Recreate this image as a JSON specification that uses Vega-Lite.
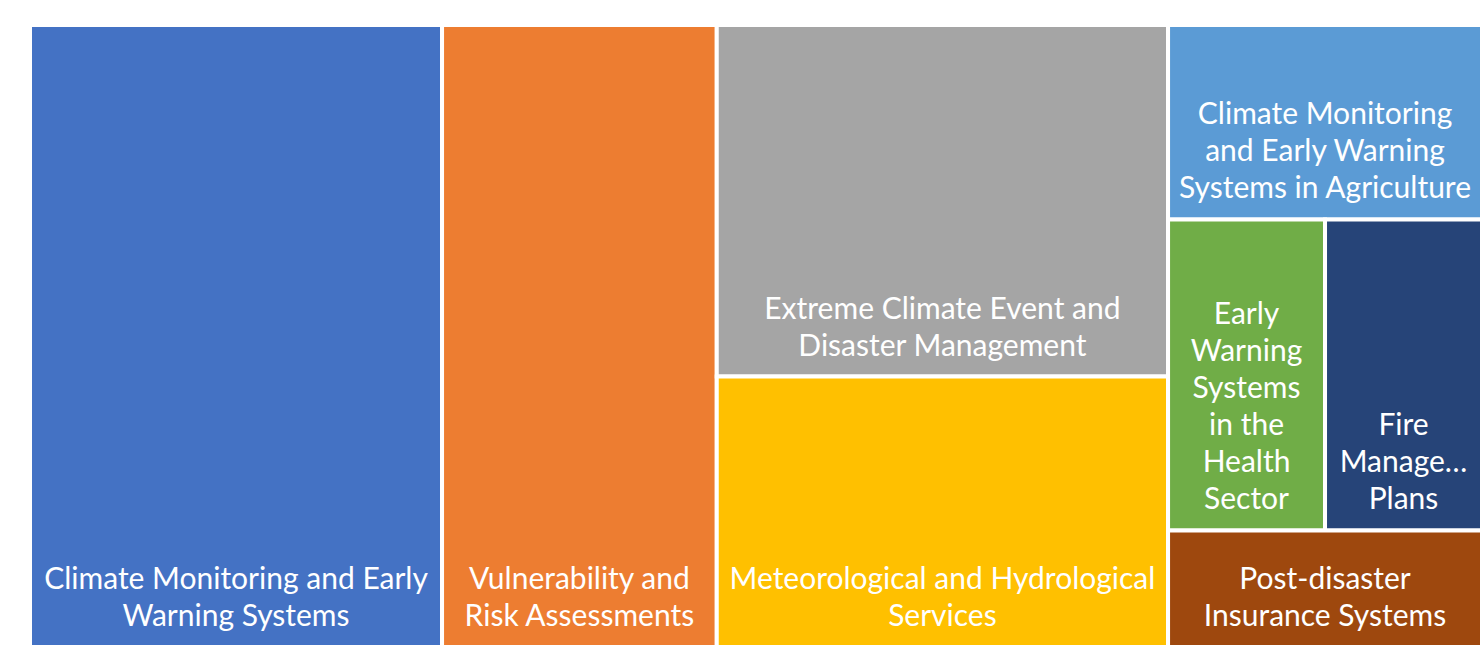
{
  "$schema": "https://vega.github.io/schema/vega-lite/v6.json",
  "width": 1452,
  "height": 622,
  "padding": {"left": 28, "top": 23, "right": 4, "bottom": 14},
  "background": "white",
  "config": {"view": {"stroke": null}},
  "data": {
    "values": [
      {"name": "Climate Monitoring and Early Warning Systems", "label": "Climate Monitoring and Early\nWarning Systems", "value": 21, "col": 1, "row": 1, "order": 1},
      {"name": "Vulnerability and Risk Assessments", "label": "Vulnerability and\nRisk Assessments", "value": 14, "col": 2, "row": 1, "order": 1},
      {"name": "Extreme Climate Event and Disaster Management", "label": "Extreme Climate Event and\nDisaster Management", "value": 13, "col": 3, "row": 1, "order": 1},
      {"name": "Meteorological and Hydrological Services", "label": "Meteorological and Hydrological\nServices", "value": 10, "col": 3, "row": 2, "order": 1},
      {"name": "Climate Monitoring and Early Warning Systems in Agriculture", "label": "Climate Monitoring\nand Early Warning\nSystems in Agriculture", "value": 5, "col": 4, "row": 1, "order": 1},
      {"name": "Early Warning Systems in the Health Sector", "label": "Early\nWarning\nSystems\nin the\nHealth\nSector", "value": 4, "col": 4, "row": 2, "order": 1},
      {"name": "Fire Management Plans", "label": "Fire\nManage…\nPlans", "value": 4, "col": 4, "row": 2, "order": 2},
      {"name": "Post-disaster Insurance Systems", "label": "Post-disaster\nInsurance Systems", "value": 3, "col": 4, "row": 3, "order": 1}
    ]
  },
  "transform": [
    {"joinaggregate": [{"op": "sum", "field": "value", "as": "colTotal"}], "groupby": ["col"]},
    {"joinaggregate": [{"op": "sum", "field": "value", "as": "rowTotal"}], "groupby": ["col", "row"]},
    {"window": [{"op": "sum", "field": "value", "as": "xEnd"}], "sort": [{"field": "col", "order": "ascending"}], "frame": [null, 0], "ignorePeers": false},
    {"window": [{"op": "sum", "field": "value", "as": "yCum"}], "groupby": ["col"], "sort": [{"field": "row", "order": "ascending"}], "frame": [null, 0], "ignorePeers": false},
    {"window": [{"op": "sum", "field": "value", "as": "inCum"}], "groupby": ["col", "row"], "sort": [{"field": "order", "order": "ascending"}], "frame": [null, 0]},
    {"calculate": "datum.xEnd - datum.colTotal", "as": "xStart"},
    {"calculate": "datum.xStart + datum.colTotal * (datum.inCum - datum.value) / datum.rowTotal", "as": "x0"},
    {"calculate": "datum.xStart + datum.colTotal * datum.inCum / datum.rowTotal", "as": "x1"},
    {"calculate": "(datum.yCum - datum.rowTotal) / datum.colTotal", "as": "y0"},
    {"calculate": "datum.yCum / datum.colTotal", "as": "y1"},
    {"calculate": "(datum.x0 + datum.x1) / 2", "as": "xc"},
    {"calculate": "length(split(datum.label, '\\n'))", "as": "nLines"}
  ],
  "encoding": {
    "x": {"field": "x0", "type": "quantitative", "scale": {"domain": [0, 74], "nice": false, "zero": false}, "axis": null},
    "y": {"field": "y0", "type": "quantitative", "scale": {"domain": [0, 1], "nice": false, "reverse": true}, "axis": null}
  },
  "layer": [
    {
      "mark": {"type": "rect", "stroke": "white", "strokeWidth": 4},
      "encoding": {
        "x2": {"field": "x1"},
        "y2": {"field": "y1"},
        "color": {
          "field": "name",
          "type": "nominal",
          "legend": null,
          "scale": {
            "domain": [
              "Climate Monitoring and Early Warning Systems",
              "Vulnerability and Risk Assessments",
              "Extreme Climate Event and Disaster Management",
              "Meteorological and Hydrological Services",
              "Climate Monitoring and Early Warning Systems in Agriculture",
              "Early Warning Systems in the Health Sector",
              "Fire Management Plans",
              "Post-disaster Insurance Systems"
            ],
            "range": ["#4472C4", "#ED7D31", "#A5A5A5", "#FFC000", "#5B9BD5", "#70AD47", "#264478", "#9E480E"]
          }
        }
      }
    },
    {
      "transform": [{"filter": "datum.nLines == 2"}],
      "mark": {"type": "text", "align": "center", "baseline": "alphabetic", "dy": -58, "lineBreak": "\n", "lineHeight": 37, "font": "Lato", "fontSize": 30, "color": "white"},
      "encoding": {
        "x": {"field": "xc", "type": "quantitative"},
        "y": {"field": "y1", "type": "quantitative"},
        "text": {"field": "label"}
      }
    },
    {
      "transform": [{"filter": "datum.nLines == 3"}],
      "mark": {"type": "text", "align": "center", "baseline": "alphabetic", "dy": -95, "lineBreak": "\n", "lineHeight": 37, "font": "Lato", "fontSize": 30, "color": "white"},
      "encoding": {
        "x": {"field": "xc", "type": "quantitative"},
        "y": {"field": "y1", "type": "quantitative"},
        "text": {"field": "label"}
      }
    },
    {
      "transform": [{"filter": "datum.nLines == 6"}],
      "mark": {"type": "text", "align": "center", "baseline": "alphabetic", "dy": -206, "lineBreak": "\n", "lineHeight": 37, "font": "Lato", "fontSize": 30, "color": "white"},
      "encoding": {
        "x": {"field": "xc", "type": "quantitative"},
        "y": {"field": "y1", "type": "quantitative"},
        "text": {"field": "label"}
      }
    }
  ]
}
